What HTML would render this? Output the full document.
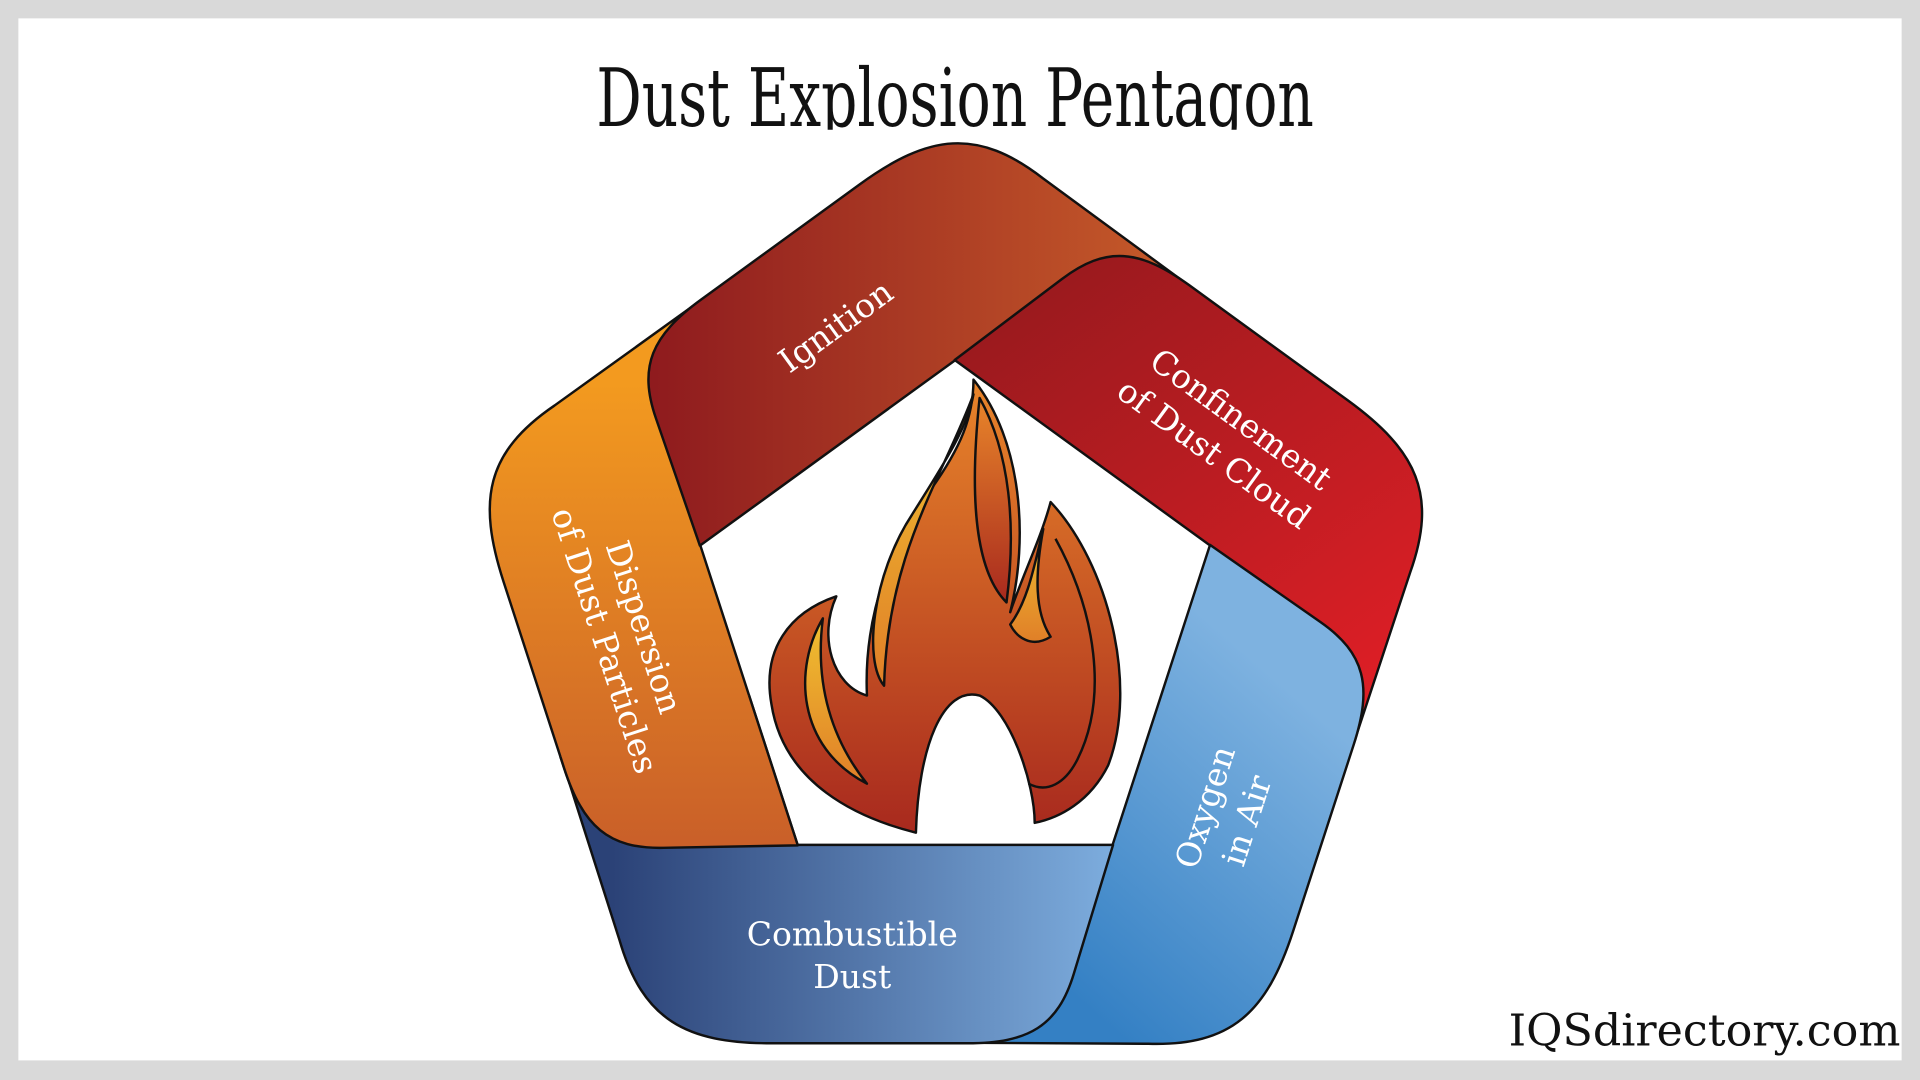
<!DOCTYPE html>
<html><head><meta charset="utf-8"><style>
html,body{margin:0;padding:0;background:#d9d9d9;}
svg{display:block;}
</style></head><body>
<svg width="1920" height="1080" viewBox="0 0 1568 882" xmlns="http://www.w3.org/2000/svg">
<defs>
<linearGradient id="gC" gradientUnits="userSpaceOnUse" x1="-280" y1="0" x2="130" y2="0"><stop offset="0" stop-color="#2b4277"/><stop offset="1" stop-color="#7dadde"/></linearGradient>
<linearGradient id="gD" gradientUnits="userSpaceOnUse" x1="0" y1="-200" x2="0" y2="180" gradientTransform="rotate(-72)"><stop offset="0" stop-color="#f39a1f"/><stop offset="1" stop-color="#c95f29"/></linearGradient>
<linearGradient id="gI" gradientUnits="userSpaceOnUse" x1="-245" y1="0" x2="190" y2="0" gradientTransform="rotate(-144)"><stop offset="0" stop-color="#8f1b1e"/><stop offset="1" stop-color="#c75c2a"/></linearGradient>
<linearGradient id="gF" gradientUnits="userSpaceOnUse" x1="80" y1="-290" x2="340" y2="80" gradientTransform="rotate(-216)"><stop offset="0" stop-color="#9a1a1e"/><stop offset="1" stop-color="#e11f26"/></linearGradient>
<linearGradient id="gO" gradientUnits="userSpaceOnUse" x1="130" y1="330" x2="330" y2="100" gradientTransform="rotate(-288)"><stop offset="0" stop-color="#3480c4"/><stop offset="1" stop-color="#7eb2e0"/></linearGradient>
<linearGradient id="gFl" x1="0" y1="0" x2="0" y2="1"><stop offset="0" stop-color="#e8852a"/><stop offset="1" stop-color="#a8291e"/></linearGradient>
<linearGradient id="gY" x1="0" y1="0" x2="0" y2="1"><stop offset="0" stop-color="#f0c030"/><stop offset="1" stop-color="#e07f28"/></linearGradient>
<clipPath id="capClip" clipPathUnits="userSpaceOnUse"><rect x="0" y="120" width="200" height="240"/></clipPath>
<clipPath id="titleClip"><rect x="0" y="0" width="1568" height="106"/></clipPath>
<path id="band" d="M129,177 L97,282 C84,325 60,339 10,339 L-150,339 C-220,339 -255,320 -274,255 L-319,114 L-250,165 L-129,177 Z" stroke="#111" stroke-width="2" stroke-linejoin="round"/>
</defs>
<rect x="15" y="15" width="1538" height="851" fill="#fff"/>
<g clip-path="url(#titleClip)">
<text x="780" y="103" text-anchor="middle" font-family="'DejaVu Serif','Liberation Serif',serif" font-size="66" fill="#111" textLength="586" lengthAdjust="spacingAndGlyphs">Dust Explosion Pentagon</text>
</g>
<g transform="translate(780 513) rotate(72)"><use href="#band" fill="url(#gD)"/></g>
<g transform="translate(780 513) rotate(144)"><use href="#band" fill="url(#gI)"/></g>
<g transform="translate(780 513) rotate(216)"><use href="#band" fill="url(#gF)"/></g>
<g transform="translate(780 513) rotate(288)"><use href="#band" fill="url(#gO)"/></g>
<g transform="translate(780 513)"><use href="#band" fill="url(#gC)"/></g>
<g transform="translate(780 513) rotate(72)"><g clip-path="url(#capClip)"><use href="#band" fill="url(#gD)"/></g></g>

<!-- flame -->
<g stroke="#111" stroke-width="2" stroke-linejoin="round">
<path fill="url(#gFl)" d="M748,680 C700,668 640,640 630,575 C622,530 645,500 683,487 C668,520 680,560 708,568 C705,500 730,440 760,400 C785,365 795,340 795,310 C835,360 840,440 825,500 C835,470 850,440 858,410 C905,460 930,560 905,625 C890,655 865,668 845,672 C845,640 825,580 800,568 C770,560 750,610 748,680 Z"/>
<path fill="url(#gY)" d="M795,322 C770,390 725,450 722,560 C705,540 712,470 745,420 C770,380 790,350 795,322 Z"/>
<path fill="url(#gFl)" d="M800,325 C825,370 830,430 822,492 C800,470 790,420 800,325 Z"/>
<path fill="url(#gY)" d="M672,505 C648,545 650,610 708,640 C680,605 665,560 672,505 Z"/>
<path fill="url(#gY)" d="M852,432 C845,470 845,500 858,520 C842,530 830,520 825,510 C840,490 845,460 852,432 Z"/>
<path fill="none" d="M862,440 C895,500 905,570 880,620 C870,640 855,648 840,640"/>
</g>

<g fill="#fff" font-family="'DejaVu Serif','Liberation Serif',serif" font-size="27" text-anchor="middle">
<text x="696" y="772">Combustible</text>
<text x="696" y="807">Dust</text>
<text transform="translate(688 274) rotate(-36)">Ignition</text>
<text transform="translate(1008 350) rotate(36)">Confinement</text>
<text transform="translate(986 378) rotate(36)">of Dust Cloud</text>
<text transform="translate(993 662) rotate(-72)">Oxygen</text>
<text transform="translate(1027 673) rotate(-72)">in Air</text>
<text transform="translate(517 515) rotate(72)">Dispersion</text>
<text transform="translate(485 526) rotate(72)">of Dust Particles</text>
</g>

<text x="1552" y="854" text-anchor="end" font-family="'DejaVu Serif','Liberation Serif',serif" font-size="36" fill="#111" textLength="320" lengthAdjust="spacingAndGlyphs">IQSdirectory.com</text>
</svg>
</body></html>
